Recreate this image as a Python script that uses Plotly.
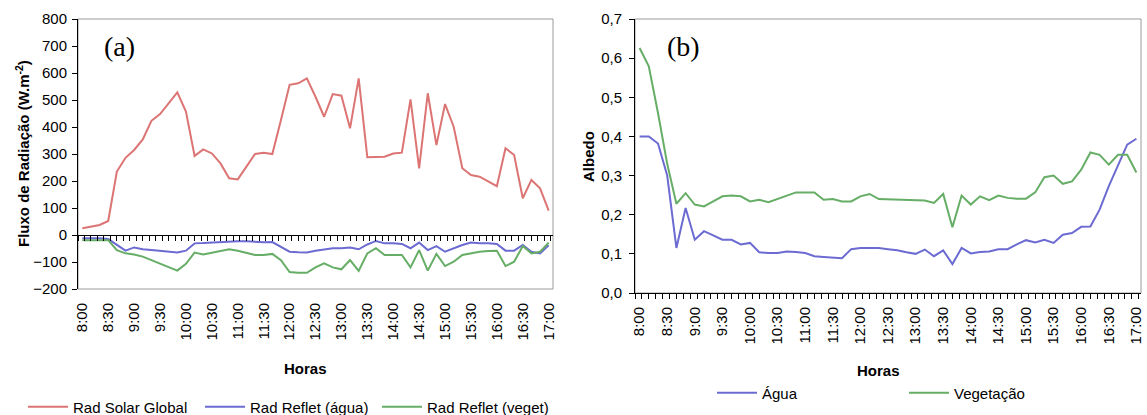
import plotly.graph_objects as go

W, H = 1147, 415

# ---------------- data ----------------
horas = ["8:00","8:10","8:20","8:30","8:40","8:50","9:00","9:10","9:20","9:30","9:40","9:50",
         "10:00","10:10","10:20","10:30","10:40","10:50","11:00","11:10","11:20","11:30","11:40","11:50",
         "12:00","12:10","12:20","12:30","12:40","12:50","13:00","13:10","13:20","13:30","13:40","13:50",
         "14:00","14:10","14:20","14:30","14:40","14:50","15:00","15:10","15:20","15:30","15:40","15:50",
         "16:00","16:10","16:20","16:30","16:40","16:50","17:00"]
tick_labels = ["8:00","8:30","9:00","9:30","10:00","10:30","11:00","11:30","12:00","12:30",
               "13:00","13:30","14:00","14:30","15:00","15:30","16:00","16:30","17:00"]

rad_solar_global = [25, 31, 37, 52, 235, 286, 315, 354, 423, 448, 488, 528, 457, 293, 317, 302, 265, 210,
                    206, 253, 300, 305, 300, 426, 556, 562, 580, 512, 438, 522, 516, 395, 580, 288, 290, 290,
                    302, 305, 502, 247, 525, 333, 485, 401, 247, 222, 216, 198, 181, 321, 296, 136, 204, 173, 90]
rad_reflet_agua = [-12, -12, -12, -15, -37, -58, -46, -53, -56, -59, -63, -65, -58, -31, -30, -28, -26, -26,
                   -23, -23, -26, -27, -26, -43, -62, -64, -65, -58, -53, -49, -49, -46, -53, -35, -22, -31,
                   -31, -33, -49, -28, -56, -41, -62, -49, -37, -28, -31, -31, -33, -58, -58, -37, -62, -68, -38]
rad_reflet_veget = [-19, -19, -19, -19, -56, -68, -72, -80, -93, -107, -120, -132, -107, -65, -72, -65, -59, -53,
                    -58, -65, -74, -74, -70, -93, -137, -140, -140, -120, -105, -120, -127, -93, -133, -68, -49, -74,
                    -74, -74, -120, -56, -132, -70, -115, -99, -74, -68, -62, -59, -58, -115, -99, -41, -68, -62, -28]

albedo_agua = [0.40, 0.40, 0.382, 0.30, 0.115, 0.217, 0.136, 0.158, 0.147, 0.136, 0.136, 0.124, 0.128, 0.104,
               0.102, 0.102, 0.106, 0.105, 0.102, 0.094, 0.092, 0.090, 0.089, 0.112, 0.115, 0.115, 0.115,
               0.112, 0.109, 0.104, 0.100, 0.111, 0.094, 0.109, 0.074, 0.115, 0.101, 0.105, 0.106, 0.112,
               0.112, 0.124, 0.135, 0.129, 0.136, 0.128, 0.149, 0.153, 0.169, 0.170, 0.213, 0.273, 0.324, 0.379, 0.394]
albedo_veget = [0.626, 0.579, 0.46, 0.33, 0.228, 0.255, 0.226, 0.221, 0.234, 0.247, 0.249, 0.247, 0.234, 0.238,
                0.232, 0.240, 0.247, 0.257, 0.257, 0.257, 0.238, 0.240, 0.234, 0.234, 0.247, 0.253, 0.240,
                0.239, 0.238, 0.237, 0.236, 0.236, 0.230, 0.253, 0.168, 0.249, 0.226, 0.247, 0.237, 0.249,
                0.243, 0.241, 0.241, 0.257, 0.296, 0.300, 0.279, 0.285, 0.315, 0.359, 0.353, 0.328, 0.353, 0.353, 0.308]

# ---------------- style ----------------
RED, BLUE, GREEN = "#DC7474", "#6B6BD2", "#66AD66"
FONT = "Liberation Sans, Arial, sans-serif"
FRAME = "#9A9A9A"

def px_x(p): return p / W
def px_y(p): return 1 - p / H

# plot areas (window pixels)
A_L, A_R, A_T, A_B = 78, 553, 19, 289
B_L, B_R, B_T, B_B = 635, 1141, 19, 293
zero_a = A_B - (A_B - A_T) * 200 / 1000

n = len(horas)
xr = [-0.5, n - 0.5]
minor_ticks = [-0.5 + 0.75 * k for k in range(int(n / 0.75) + 1)]

fig = go.Figure()
fig.add_trace(go.Scatter(x=horas, y=rad_solar_global, mode="lines", name="Rad Solar Global",
                         line=dict(color=RED, width=2), xaxis="x", yaxis="y", legend="legend"))
fig.add_trace(go.Scatter(x=horas, y=rad_reflet_agua, mode="lines", name="Rad Reflet (água)",
                         line=dict(color=BLUE, width=2), xaxis="x", yaxis="y", legend="legend"))
fig.add_trace(go.Scatter(x=horas, y=rad_reflet_veget, mode="lines", name="Rad Reflet (veget)",
                         line=dict(color=GREEN, width=2), xaxis="x", yaxis="y", legend="legend"))
fig.add_trace(go.Scatter(x=horas, y=albedo_agua, mode="lines", name="Água",
                         line=dict(color=BLUE, width=2), xaxis="x2", yaxis="y2", legend="legend2"))
fig.add_trace(go.Scatter(x=horas, y=albedo_veget, mode="lines", name="Vegetação",
                         line=dict(color=GREEN, width=2), xaxis="x2", yaxis="y2", legend="legend2"))
# empty helper traces so the tick-only axes exist
fig.add_trace(go.Scatter(x=[None], y=[None], xaxis="x3", yaxis="y3", showlegend=False, hoverinfo="skip"))
fig.add_trace(go.Scatter(x=[None], y=[None], xaxis="x4", yaxis="y2", showlegend=False, hoverinfo="skip"))

tickfont = dict(family=FONT, size=15, color="black")
common = dict(automargin=False, showgrid=False, zeroline=False)
fig.update_layout(
    template="none",
    width=W, height=H, margin=dict(l=0, r=0, t=0, b=0, pad=0, autoexpand=False),
    paper_bgcolor="white", plot_bgcolor="rgba(0,0,0,0)",
    separators=",.",
    font=dict(family=FONT, size=15, color="black"),
    xaxis=dict(domain=[px_x(A_L), px_x(A_R)], anchor="y", type="category", range=xr,
               tickmode="array", tickvals=tick_labels, ticktext=tick_labels, tickangle=-90,
               ticks="", showline=False, tickfont=tickfont, ticklabelstandoff=10, **common),
    yaxis=dict(domain=[px_y(A_B), px_y(A_T)], anchor="x", range=[-200, 800], dtick=100,
               ticks="outside", ticklen=5, tickcolor="black", showline=True, linecolor="black",
               linewidth=1, tickfont=tickfont, ticklabelstandoff=2, **common),
    xaxis3=dict(domain=[px_x(A_L), px_x(A_R)], anchor="y3", range=xr, type="linear",
                tickmode="array", tickvals=minor_ticks, ticks="outside", ticklen=5, tickcolor="black",
                showticklabels=False, showline=True, linecolor="black", linewidth=1, **common),
    yaxis3=dict(domain=[px_y(zero_a), px_y(A_T)], anchor="x3", range=[0, 1], visible=False, **common),
    xaxis2=dict(domain=[px_x(B_L), px_x(B_R)], anchor="y2", type="category", range=xr,
                tickmode="array", tickvals=tick_labels, ticktext=tick_labels, tickangle=-90,
                ticks="", showline=False, tickfont=tickfont, ticklabelstandoff=10, **common),
    xaxis4=dict(domain=[px_x(B_L), px_x(B_R)], anchor="y2", overlaying="x2", range=xr, type="linear",
                tickmode="array", tickvals=minor_ticks, ticks="outside", ticklen=5, tickcolor="black",
                showticklabels=False, showline=True, linecolor="black", linewidth=1, **common),
    yaxis2=dict(domain=[px_y(B_B), px_y(B_T)], anchor="x2", range=[0, 0.7], dtick=0.1, tickformat=".1f",
                ticks="outside", ticklen=5, tickcolor="black", showline=True, linecolor="black",
                linewidth=1, tickfont=tickfont, ticklabelstandoff=4, **common),
    legend=dict(orientation="h", x=px_x(23), y=px_y(407), xanchor="left", yanchor="middle",
                entrywidth=122, entrywidthmode="pixels", itemwidth=40, font=dict(family=FONT, size=15),
                bgcolor="rgba(0,0,0,0)", borderwidth=0, tracegroupgap=0, itemclick=False),
    legend2=dict(orientation="h", x=px_x(712), y=px_y(393), xanchor="left", yanchor="middle",
                 entrywidth=137, entrywidthmode="pixels", itemwidth=40, font=dict(family=FONT, size=15),
                 bgcolor="rgba(0,0,0,0)", borderwidth=0, itemclick=False),
    showlegend=True,
)

# plot-area frames (gray)
for xr_, yr_ in (("x domain", "y domain"), ("x2 domain", "y2 domain")):
    fig.add_shape(type="rect", xref=xr_, yref=yr_, x0=0, x1=1, y0=0, y1=1,
                  line=dict(color=FRAME, width=1), layer="below")

ann = [
    dict(text="(a)", x=px_x(120), y=px_y(47), font=dict(family="Liberation Serif, Times New Roman", size=28)),
    dict(text="(b)", x=px_x(683), y=px_y(47), font=dict(family="Liberation Serif, Times New Roman", size=28)),
    dict(text="<b>Fluxo de Radiação (W.m<sup>-2</sup>)</b>", x=px_x(22), y=px_y(154), textangle=-90,
         font=dict(family=FONT, size=15)),
    dict(text="<b>Albedo</b>", x=px_x(588), y=px_y(157), textangle=-90, font=dict(family=FONT, size=15)),
    dict(text="<b>Horas</b>", x=px_x(305), y=px_y(368), font=dict(family=FONT, size=15)),
    dict(text="<b>Horas</b>", x=px_x(878), y=px_y(370), font=dict(family=FONT, size=15)),
]
for a in ann:
    fig.add_annotation(xref="paper", yref="paper", showarrow=False, xanchor="center", yanchor="middle", **a)

# place the figure at the window's top-left corner (no default page margin / scrollbars)
page_css = ("document.body.style.margin='0px';document.body.style.overflow='hidden';"
            "document.documentElement.style.overflow='hidden';")
fig.write_html("out.html", post_script=page_css, config={"displayModeBar": False})
